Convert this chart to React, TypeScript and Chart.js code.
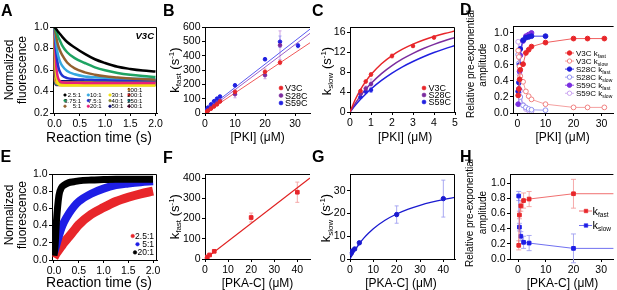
import React, { useEffect, useRef } from "react";
import { Chart, registerables } from "chart.js";

Chart.register(...registerables);

const FONT = "'Liberation Sans', Arial, Helvetica, sans-serif";
const W = 617;
const H = 290;
const YW = 28; // reserved width of the y scale box
const XH = 20; // reserved height of the x scale box

/* ================= DATA ================= */
/* Panel A: normalized fluorescence decays (V3C), value read at each time */
const A_TIME = [0, 0.01, 0.02, 0.03, 0.05, 0.075, 0.1, 0.15, 0.25, 0.4, 0.6, 0.8, 1.0, 1.25, 1.5, 1.75, 2.0];
const A_R2_5 = [1.0, 0.994, 0.988, 0.981, 0.97, 0.954, 0.94, 0.91, 0.86, 0.81, 0.75, 0.7, 0.665, 0.63, 0.61, 0.595, 0.585];
const A_R3_75 = [1.0, 0.99, 0.976, 0.965, 0.94, 0.905, 0.88, 0.83, 0.765, 0.71, 0.665, 0.625, 0.597, 0.573, 0.556, 0.544, 0.535];
const A_R5 = [1.0, 0.97, 0.945, 0.92, 0.87, 0.825, 0.79, 0.74, 0.67, 0.615, 0.578, 0.556, 0.541, 0.53, 0.52, 0.514, 0.51];
const A_R10 = [1.0, 0.95, 0.9, 0.86, 0.79, 0.73, 0.69, 0.64, 0.59, 0.56, 0.54, 0.532, 0.527, 0.523, 0.52, 0.518, 0.515];
const A_R7_5 = [1.0, 0.92, 0.85, 0.79, 0.7, 0.63, 0.59, 0.55, 0.525, 0.515, 0.51, 0.508, 0.506, 0.505, 0.505, 0.505, 0.505];
const A_R20 = [1.0, 0.85, 0.74, 0.66, 0.57, 0.52, 0.5, 0.486, 0.482, 0.481, 0.48, 0.48, 0.48, 0.48, 0.48, 0.48, 0.48];
const A_R30 = [1.0, 0.78, 0.65, 0.57, 0.5, 0.47, 0.46, 0.456, 0.455, 0.455, 0.455, 0.455, 0.455, 0.455, 0.455, 0.455, 0.455];
const A_R40 = [1.0, 0.74, 0.6, 0.54, 0.5, 0.49, 0.487, 0.486, 0.485, 0.485, 0.485, 0.485, 0.485, 0.485, 0.485, 0.485, 0.485];
const A_R50 = [1.0, 0.7, 0.58, 0.53, 0.505, 0.498, 0.496, 0.495, 0.495, 0.495, 0.495, 0.495, 0.495, 0.495, 0.495, 0.495, 0.495];
const A_R100 = [1.0, 0.6, 0.51, 0.485, 0.475, 0.472, 0.471, 0.47, 0.47, 0.47, 0.47, 0.47, 0.47, 0.47, 0.47, 0.47, 0.47];
const A_R200 = [1.0, 0.55, 0.5, 0.492, 0.49, 0.49, 0.49, 0.49, 0.49, 0.49, 0.49, 0.49, 0.49, 0.49, 0.49, 0.49, 0.49];
const A_R250 = [1.0, 0.52, 0.475, 0.468, 0.466, 0.465, 0.465, 0.465, 0.465, 0.465, 0.465, 0.465, 0.465, 0.465, 0.465, 0.465, 0.465];
const A_R400 = [1.0, 0.5, 0.468, 0.462, 0.46, 0.46, 0.46, 0.46, 0.46, 0.46, 0.46, 0.46, 0.46, 0.46, 0.46, 0.46, 0.46];
const A_LABELS = ["2.5:1", "3.75:1", "5:1", "10:1", "7.5:1", "20:1", "30:1", "40:1", "50:1", "100:1", "200:1", "250:1", "400:1"];
const A_SERIES = [A_R2_5, A_R3_75, A_R5, A_R10, A_R7_5, A_R20, A_R30, A_R40, A_R50, A_R100, A_R200, A_R250, A_R400];
const A_COLORS = ["#000000", "#1fa463", "#94602f", "#35a8e0", "#2233d0", "#e8207a", "#f2e313", "#8a8a35", "#0d0d6b", "#f5a33a", "#e62020", "#127f86", "#8b1a5c"];

/* Panel B: k_fast vs [PKI] */
const B_PKI = [0.5, 1, 2, 3, 4, 5, 10, 20, 25];
const B_PKI_S59C = [0.5, 1, 2, 3, 4, 5, 10, 20, 25, 31];
const B_V3C = [8, 15, 30, 45, 60, 80, 147, 287, 352];
const B_S28C = [9, 18, 35, 52, 68, 84, 131, 264, 473];
const B_S59C = [20, 38, 60, 82, 100, 115, 193, 375, 497, 470];
const B_V3C_ERR = [1, 2, 3, 4, 5, 6, 15, 20, 15];
const B_S28C_ERR = [2, 3, 4, 5, 6, 8, 25, 25, 100];
const B_S59C_ERR = [2, 3, 4, 5, 6, 8, 10, 10, 40, 15];
const B_FIT_X = [0, 35];
const B_FIT_V3C = [0, 490];
const B_FIT_S28C = [5, 556];
const B_FIT_S59C = [15, 585];

/* Panel C: k_slow vs [PKI] */
const C_PKI = [0.5, 0.75, 1, 2, 3, 4];
const C_PKI_LOW = [0.5, 0.75, 1];
const C_V3C = [4.2, 6.1, 7.5, 11.2, 13.2, 14.9];
const C_S28C = [3.6, 4.7, 5.6];
const C_S59C = [3.0, 4.1, 4.4];
const C_V3C_ERR = [0.3, 0.3, 0.4, 0.4, 0.3, 0.3];
const C_S28C_ERR = [0.4, 0.5, 1.0];
const C_S59C_ERR = [0.3, 0.4, 0.5];
const C_FIT_X = [0, 0.25, 0.5, 0.75, 1, 1.5, 2, 2.5, 3, 3.5, 4, 4.5, 5];
const C_FIT_V3C = [0, 2.49, 4.49, 6.13, 7.5, 9.66, 11.29, 12.56, 13.57, 14.4, 15.1, 15.69, 16.19];
const C_FIT_S28C = [0, 1.72, 3.22, 4.53, 5.7, 7.68, 9.28, 10.62, 11.74, 12.7, 13.53, 14.26, 14.9];
const C_FIT_S59C = [0, 1.33, 2.53, 3.61, 4.6, 6.31, 7.78, 9.04, 10.1, 11.05, 11.89, 12.63, 13.3];

/* Panel D: relative amplitudes vs [PKI] */
const D_PKI_V3C = [0.25, 0.5, 0.75, 1, 2, 3, 4, 5, 10, 20, 25, 31];
const D_V3C_FAST = [0.22, 0.3, 0.42, 0.54, 0.61, 0.75, 0.79, 0.83, 0.88, 0.93, 0.93, 0.93];
const D_V3C_SLOW = [0.78, 0.7, 0.58, 0.46, 0.39, 0.27, 0.21, 0.17, 0.11, 0.07, 0.07, 0.07];
const D_PKI_S28C = [0.25, 0.5, 0.75, 1, 2, 3, 4, 5, 10];
const D_S28C_FAST = [0.27, 0.38, 0.6, 0.8, 0.91, 0.94, 0.95, 0.96, 0.96];
const D_S28C_SLOW = [0.73, 0.62, 0.4, 0.2, 0.095, 0.07, 0.05, 0.04, 0.035];
const D_PKI_S59C = [0.25, 0.5, 0.75, 1, 2, 3, 4, 5];
const D_S59C_FAST = [0.11, 0.3, 0.52, 0.72, 0.9, 0.96, 0.98, 1.0];
const D_S59C_SLOW = [0.89, 0.7, 0.48, 0.28, 0.1, 0.05, 0.03, 0.02];

/* Panel E: normalized fluorescence rises (PKA-C : probe) */
const E_TIME = [0, 0.02, 0.05, 0.1, 0.15, 0.2, 0.3, 0.4, 0.5, 0.75, 1.0, 1.25, 1.5, 1.75, 2.0];
const E_R2_5 = [0.03, 0.05, 0.08, 0.12, 0.16, 0.2, 0.27, 0.34, 0.41, 0.53, 0.61, 0.68, 0.73, 0.77, 0.8];
const E_R5 = [0.08, 0.12, 0.18, 0.28, 0.37, 0.44, 0.54, 0.62, 0.68, 0.77, 0.83, 0.87, 0.89, 0.905, 0.915];
const E_R20 = [0.05, 0.15, 0.45, 0.75, 0.84, 0.87, 0.9, 0.91, 0.92, 0.93, 0.935, 0.94, 0.94, 0.94, 0.94];
const E_LABELS = ["2.5:1", "5:1", "20:1"];

/* Panels F, G, H: vs [PKA-C] */
const FG_PKAC = [0.5, 1, 2, 4, 20, 40];
const F_KFAST = [5, 10, 20, 38, 205, 330];
const F_ERR = [1, 2, 3, 4, 22, 50];
const F_FIT_X = [0, 45.5];
const F_FIT_Y = [0, 400];
const G_KSLOW = [2.5, 3.5, 4.4, 7.1, 19.5, 26.5];
const G_ERR = [0.3, 0.4, 0.5, 0.6, 3.8, 8.1];
const G_FIT_X = [0, 1, 2, 4, 6, 8, 10, 15, 20, 25, 30, 35, 40, 45];
const G_FIT_Y = [0, 1.925, 3.667, 6.696, 9.24, 11.41, 13.28, 16.99, 19.74, 21.88, 23.57, 24.95, 26.1, 27.07];
const H_PKAC = [0.25, 0.5, 1, 2, 4, 20, 40];
const H_FAST = [0.18, 0.58, 0.7, 0.77, 0.79, 0.86, 0.86];
const H_SLOW = [0.83, 0.42, 0.3, 0.22, 0.21, 0.14, 0.14];
const H_FAST_ERR = [0.06, 0.05, 0.07, 0.1, 0.1, 0.19, 0];
const H_SLOW_ERR = [0.06, 0.05, 0.06, 0.08, 0.1, 0.19, 0];

/* Tick values */
const TICKS_TIME = [0, 0.5, 1, 1.5, 2];
const TICKS_A_Y = [0.2, 0.4, 0.6, 0.8, 1.0];
const TICKS_FRAC = [0, 0.2, 0.4, 0.6, 0.8, 1.0];
const TICKS_B_X = [0, 10, 20, 30];
const TICKS_B_Y = [0, 100, 200, 300, 400, 500, 600];
const TICKS_C_X = [0, 1, 2, 3, 4, 5];
const TICKS_C_Y = [0, 4, 8, 12, 16];
const TICKS_FG_X = [0, 10, 20, 30, 40];
const TICKS_F_Y = [0, 100, 200, 300, 400];
const TICKS_G_Y = [0, 10, 20, 30];

/* ================= HELPERS ================= */
type Part = { t: string; s: number; dy?: number; b?: boolean; i?: boolean };
type TextSpec = { x: number; y: number; parts: Part[]; align?: "left" | "center" | "right"; rot?: boolean; color?: string };
type MarkerSpec = { style: "circle" | "rect"; r: number; fill: string | null; stroke: string; lw: number };
type LegendSpec = { x: number; y: number; marker?: MarkerSpec; line?: { x1: number; x2: number; color: string; lw: number }; text: TextSpec };
type ErrSpec = { ds: number; err: number[]; color: string; cap: number };
type PanelSpec = {
  area: [number, number, number, number];
  xr: [number, number];
  yr: [number, number];
  xt: number[];
  yt: number[];
  xf: (v: number) => string;
  yf: (v: number) => string;
  datasets: any[];
  texts: TextSpec[];
  legend: LegendSpec[];
  errs: ErrSpec[];
  boxRight: boolean;
};

const pts = (xs: number[], ys: number[]) => xs.map((x, i) => ({ x, y: ys[i] }));
const P = (t: string, s: number, o: Partial<Part> = {}): Part => ({ t, s, ...o });
const f1 = (v: number) => v.toFixed(1);
const f0 = (v: number) => String(v);

function curve(xs: number[], ys: number[], color: string, width: number, extra: any = {}) {
  return {
    data: pts(xs, ys),
    showLine: true,
    borderColor: color,
    backgroundColor: color,
    borderWidth: width,
    pointRadius: 0,
    pointHoverRadius: 0,
    cubicInterpolationMode: "monotone",
    fill: false,
    ...extra,
  };
}

function marks(xs: number[], ys: number[], fill: string, stroke: string, r: number, style = "circle", extra: any = {}) {
  return {
    data: pts(xs, ys),
    showLine: false,
    pointRadius: r,
    pointHoverRadius: r,
    pointStyle: style,
    pointBackgroundColor: fill,
    pointBorderColor: stroke,
    pointBorderWidth: 1,
    ...extra,
  };
}

function linked(xs: number[], ys: number[], lineColor: string, fill: string, stroke: string, r: number, style = "circle") {
  return {
    data: pts(xs, ys),
    showLine: true,
    borderColor: lineColor,
    borderWidth: 1,
    tension: 0,
    pointRadius: r,
    pointHoverRadius: r,
    pointStyle: style,
    pointBackgroundColor: fill,
    pointBorderColor: stroke,
    pointBorderWidth: 1,
  };
}

function drawRich(ctx: CanvasRenderingContext2D, it: TextSpec) {
  ctx.save();
  ctx.translate(it.x, it.y);
  if (it.rot) ctx.rotate(-Math.PI / 2);
  ctx.textBaseline = "alphabetic";
  ctx.textAlign = "left";
  ctx.fillStyle = it.color || "#000";
  const fonts = it.parts.map((p) => `${p.i ? "italic " : ""}${p.b ? "bold " : ""}${p.s}px ${FONT}`);
  let total = 0;
  const widths = it.parts.map((p, k) => {
    ctx.font = fonts[k];
    const w = ctx.measureText(p.t).width;
    total += w;
    return w;
  });
  let x0 = it.align === "center" ? -total / 2 : it.align === "right" ? -total : 0;
  it.parts.forEach((p, k) => {
    ctx.font = fonts[k];
    ctx.fillText(p.t, x0, p.dy || 0);
    x0 += widths[k];
  });
  ctx.restore();
}

function drawMarker(ctx: CanvasRenderingContext2D, m: MarkerSpec, x: number, y: number) {
  ctx.save();
  ctx.beginPath();
  if (m.style === "rect") ctx.rect(x - m.r, y - m.r, 2 * m.r, 2 * m.r);
  else ctx.arc(x, y, m.r, 0, Math.PI * 2);
  if (m.fill) {
    ctx.fillStyle = m.fill;
    ctx.fill();
  }
  ctx.lineWidth = m.lw;
  ctx.strokeStyle = m.stroke;
  ctx.stroke();
  ctx.restore();
}

function decor(p: PanelSpec) {
  return {
    id: "decor",
    beforeDatasetsDraw(chart: any) {
      const ctx: CanvasRenderingContext2D = chart.ctx;
      const ys = chart.scales.y;
      for (const e of p.errs) {
        const meta = chart.getDatasetMeta(e.ds);
        const vals = chart.data.datasets[e.ds].data;
        meta.data.forEach((pt: any, i: number) => {
          const d = e.err[i];
          if (!d) return;
          const v = vals[i].y;
          const y1 = ys.getPixelForValue(v - d);
          const y2 = ys.getPixelForValue(v + d);
          ctx.save();
          ctx.strokeStyle = e.color;
          ctx.lineWidth = 0.9;
          ctx.beginPath();
          ctx.moveTo(pt.x, y1);
          ctx.lineTo(pt.x, y2);
          ctx.moveTo(pt.x - e.cap, y1);
          ctx.lineTo(pt.x + e.cap, y1);
          ctx.moveTo(pt.x - e.cap, y2);
          ctx.lineTo(pt.x + e.cap, y2);
          ctx.stroke();
          ctx.restore();
        });
      }
    },
    afterDraw(chart: any) {
      const ctx: CanvasRenderingContext2D = chart.ctx;
      const a = chart.chartArea;
      ctx.save();
      ctx.strokeStyle = "#000";
      ctx.lineWidth = 1;
      ctx.beginPath();
      const t = Math.round(a.top) + 0.5;
      const r = Math.round(a.right) - 0.5;
      ctx.moveTo(Math.round(a.left), t);
      ctx.lineTo(p.boxRight ? r : a.right, t);
      if (p.boxRight) {
        ctx.moveTo(r, t);
        ctx.lineTo(r, Math.round(a.bottom));
      }
      ctx.stroke();
      ctx.restore();
      for (const lg of p.legend) {
        if (lg.line) {
          ctx.save();
          ctx.strokeStyle = lg.line.color;
          ctx.lineWidth = lg.line.lw;
          ctx.beginPath();
          ctx.moveTo(lg.line.x1, lg.y);
          ctx.lineTo(lg.line.x2, lg.y);
          ctx.stroke();
          ctx.restore();
        }
        if (lg.marker) drawMarker(ctx, lg.marker, lg.x, lg.y);
        drawRich(ctx, lg.text);
      }
      for (const tx of p.texts) drawRich(ctx, tx);
    },
  };
}

function axis(min: number, max: number, ticks: number[], fmt: (v: number) => string, isX: boolean) {
  return {
    type: "linear",
    position: isX ? "bottom" : "left",
    min,
    max,
    afterBuildTicks: (s: any) => {
      s.ticks = ticks.map((v) => ({ value: v }));
    },
    afterFit: (s: any) => {
      if (isX) s.height = XH;
      else s.width = YW;
      s.paddingLeft = 0;
      s.paddingRight = 0;
      s.paddingTop = 0;
      s.paddingBottom = 0;
    },
    ticks: {
      font: { family: FONT, size: 10.5 },
      color: "#000",
      padding: isX ? 2 : 1.5,
      maxRotation: 0,
      minRotation: 0,
      autoSkip: false,
      callback: (v: number) => fmt(v),
    },
    grid: { display: true, drawOnChartArea: false, drawTicks: true, tickLength: 3, color: "#000", lineWidth: 1 },
    border: { display: true, color: "#000", width: 1 },
  };
}

function makeConfig(p: PanelSpec): any {
  return {
    type: "scatter",
    data: { datasets: p.datasets },
    options: {
      animation: false,
      responsive: false,
      maintainAspectRatio: false,
      devicePixelRatio: 1,
      events: [],
      layout: {
        padding: { left: p.area[0] - YW, top: p.area[1], right: W - p.area[2], bottom: H - p.area[3] - XH },
      },
      plugins: { legend: { display: false }, tooltip: { enabled: false }, title: { display: false } },
      scales: {
        x: axis(p.xr[0], p.xr[1], p.xt, p.xf, true),
        y: axis(p.yr[0], p.yr[1], p.yt, p.yf, false),
      },
    },
    plugins: [decor(p)],
  };
}

/* common text builders */
const letter = (l: string, x: number, y: number): TextSpec => ({ x, y, parts: [P(l, 16, { b: true })] });
const kTitle = (sub: string, x: number, y: number): TextSpec => ({
  x,
  y,
  rot: true,
  align: "center",
  parts: [P("k", 13), P(sub, 8, { dy: 2.5 }), P(" (s", 13), P("-1", 8, { dy: -5 }), P(")", 13)],
});
const xTitle = (t: string, x: number, y: number, s = 12): TextSpec => ({ x, y, align: "center", parts: [P(t, s)] });
const rotLine = (t: string, x: number, y: number, s: number): TextSpec => ({ x, y, rot: true, align: "center", parts: [P(t, s)] });

/* colours */
const RED = "#e8262a";
const PURPLE = "#7b2c9e";
const BLUE = "#2020e0";
const VIOLET = "#7a2ee0";

/* ================= PANELS ================= */
const A_LEG_COLS = [
  { mx: 65, tx: 81, rows: [95, 100.6, 106.2], idx: [0, 1, 2] },
  { mx: 88.3, tx: 101.7, rows: [95, 100.6, 106.2], idx: [3, 4, 5] },
  { mx: 110, tx: 123.3, rows: [95, 100.6, 106.2], idx: [6, 7, 8] },
  { mx: 129, tx: 142.3, rows: [89.4, 95, 100.6, 106.2], idx: [9, 10, 11, 12] },
];
const A_LEGEND: LegendSpec[] = [];
A_LEG_COLS.forEach((c) =>
  c.idx.forEach((k, j) => {
    A_LEGEND.push({
      x: c.mx,
      y: c.rows[j],
      marker: { style: "circle", r: 1.3, fill: A_COLORS[k], stroke: A_COLORS[k], lw: 0.5 },
      text: { x: c.tx, y: c.rows[j] + 2.1, align: "right", parts: [P(A_LABELS[k], 6)] },
    });
  })
);

const panelA: PanelSpec = {
  area: [53, 27, 157, 113],
  xr: [-0.03, 2.03],
  yr: [0.2, 1.0],
  xt: TICKS_TIME,
  yt: TICKS_A_Y,
  xf: f1,
  yf: f1,
  datasets: A_SERIES.map((s, k) => curve(A_TIME, s, A_COLORS[k], 2.5)),
  texts: [
    letter("A", 1, 16),
    rotLine("Normalized", 13, 70, 12),
    rotLine("fluorescence", 25.5, 70, 12),
    xTitle("Reaction time (s)", 99, 141.5, 14),
    { x: 154, y: 38.5, align: "right", parts: [P("V3C", 9.5, { b: true, i: true })] },
  ],
  legend: A_LEGEND,
  errs: [],
  boxRight: true,
};

const smallLegend = (x: number, tx: number, rows: number[], names: string[], colors: string[]): LegendSpec[] =>
  names.map((n, k) => ({
    x,
    y: rows[k],
    marker: { style: "circle", r: 2, fill: colors[k], stroke: colors[k], lw: 0.5 },
    text: { x: tx, y: rows[k] + 3.2, parts: [P(n, 9)] },
  }));

const panelB: PanelSpec = {
  area: [205, 27, 310, 113],
  xr: [0, 35],
  yr: [0, 600],
  xt: TICKS_B_X,
  yt: TICKS_B_Y,
  xf: f0,
  yf: f0,
  datasets: [
    marks(B_PKI, B_V3C, RED, RED, 1.8),
    marks(B_PKI, B_S28C, PURPLE, PURPLE, 1.8),
    marks(B_PKI_S59C, B_S59C, BLUE, BLUE, 1.8),
    curve(B_FIT_X, B_FIT_V3C, "#f05a5a", 1),
    curve(B_FIT_X, B_FIT_S28C, "#a060c8", 1),
    curve(B_FIT_X, B_FIT_S59C, "#5a5af0", 1),
  ],
  texts: [letter("B", 163, 15.5), kTitle("fast", 178.5, 70), xTitle("[PKI] (\u03bcM)", 257.5, 141)],
  legend: smallLegend(281, 285, [88, 95.5, 103], ["V3C", "S28C", "S59C"], [RED, PURPLE, BLUE]),
  errs: [
    { ds: 0, err: B_V3C_ERR, color: "#f4a0a0", cap: 1.5 },
    { ds: 1, err: B_S28C_ERR, color: "#c99ae0", cap: 1.5 },
    { ds: 2, err: B_S59C_ERR, color: "#9a9af4", cap: 1.5 },
  ],
  boxRight: false,
};

const panelC: PanelSpec = {
  area: [350, 27, 455, 112],
  xr: [0, 5],
  yr: [0, 17],
  xt: TICKS_C_X,
  yt: TICKS_C_Y,
  xf: f0,
  yf: f0,
  datasets: [
    marks(C_PKI, C_V3C, RED, RED, 1.8),
    marks(C_PKI_LOW, C_S28C, PURPLE, PURPLE, 1.8),
    marks(C_PKI_LOW, C_S59C, BLUE, BLUE, 1.8),
    curve(C_FIT_X, C_FIT_V3C, RED, 1.5),
    curve(C_FIT_X, C_FIT_S28C, PURPLE, 1.5),
    curve(C_FIT_X, C_FIT_S59C, BLUE, 1.5),
  ],
  texts: [letter("C", 312, 15.5), kTitle("slow", 330.5, 71), xTitle("[PKI] (\u03bcM)", 405, 141)],
  legend: smallLegend(424, 428.5, [88, 95, 102], ["V3C", "S28C", "S59C"], [RED, PURPLE, BLUE]),
  errs: [
    { ds: 0, err: C_V3C_ERR, color: "#f4a0a0", cap: 1.5 },
    { ds: 1, err: C_S28C_ERR, color: "#c99ae0", cap: 1.5 },
    { ds: 2, err: C_S59C_ERR, color: "#9a9af4", cap: 1.5 },
  ],
  boxRight: true,
};

const D_STYLE = [
  { name: "V3C k", sub: "fast", line: "#f06060", fill: RED, stroke: RED },
  { name: "V3C k", sub: "slow", line: "#f4a0a0", fill: "#ffffff", stroke: "#f08080" },
  { name: "S28C k", sub: "fast", line: "#3a3ae0", fill: "#1c1cd8", stroke: "#1c1cd8" },
  { name: "S28C k", sub: "slow", line: "#a0a0f0", fill: "#ffffff", stroke: "#9090f0" },
  { name: "S59C k", sub: "fast", line: "#9050e0", fill: VIOLET, stroke: VIOLET },
  { name: "S59C k", sub: "slow", line: "#d0b0f0", fill: "#ffffff", stroke: "#c8a0f0" },
];
const D_XS = [D_PKI_V3C, D_PKI_V3C, D_PKI_S28C, D_PKI_S28C, D_PKI_S59C, D_PKI_S59C];
const D_YS = [D_V3C_FAST, D_V3C_SLOW, D_S28C_FAST, D_S28C_SLOW, D_S59C_FAST, D_S59C_SLOW];

const panelD: PanelSpec = {
  area: [513, 26, 617, 113],
  xr: [-1.6, 34.3],
  yr: [0, 1.087],
  xt: TICKS_B_X,
  yt: TICKS_FRAC,
  xf: f0,
  yf: f1,
  datasets: D_STYLE.map((s, k) => linked(D_XS[k], D_YS[k], s.line, s.fill, s.stroke, 2.4)),
  texts: [
    letter("D", 460, 14.5),
    rotLine("Relative pre-exponential", 473.5, 64, 10),
    rotLine("amplitude", 486, 65, 10),
    xTitle("[PKI] (\u03bcM)", 562.5, 141),
  ],
  legend: D_STYLE.map((s, k) => ({
    x: 569.5,
    y: 53 + 8.05 * k,
    line: { x1: 565, x2: 574, color: s.line, lw: 1 },
    marker: { style: "circle", r: 2.2, fill: s.fill, stroke: s.stroke, lw: 1 },
    text: { x: 576, y: 53 + 8.05 * k + 2.8, parts: [P(s.name, 8), P(s.sub, 5, { dy: 1.8 })] },
  })),
  errs: [],
  boxRight: false,
};

const E_COLORS = [RED, "#1e1ee6", "#000000"];
const panelE: PanelSpec = {
  area: [52, 174, 157, 260],
  xr: [-0.04, 2.08],
  yr: [0, 1],
  xt: TICKS_TIME,
  yt: TICKS_FRAC,
  xf: f1,
  yf: f1,
  datasets: [
    curve(E_TIME, E_R2_5, E_COLORS[0], 9, { order: 2 }),
    curve(E_TIME, E_R5, E_COLORS[1], 8, { order: 1 }),
    curve(E_TIME, E_R20, E_COLORS[2], 7, { order: 0 }),
  ],
  texts: [
    letter("E", 0.5, 161.5),
    rotLine("Normalized", 13, 215, 12),
    rotLine("fluorescence", 25.5, 215, 12),
    xTitle("Reaction time (s)", 99, 286.5, 14),
  ],
  legend: E_LABELS.map((n, k) => ({
    x: [132.7, 137.5, 135][k],
    y: [236, 244.2, 252.4][k],
    marker: { style: "circle", r: 1.8, fill: E_COLORS[k], stroke: E_COLORS[k], lw: 0.5 },
    text: { x: 154, y: [236, 244.2, 252.4][k] + 3, align: "right", parts: [P(n, 8.5)] },
  })),
  errs: [],
  boxRight: true,
};

const panelF: PanelSpec = {
  area: [205, 174, 310, 259],
  xr: [0, 45.5],
  yr: [0, 420],
  xt: TICKS_FG_X,
  yt: TICKS_F_Y,
  xf: f0,
  yf: f0,
  datasets: [marks(FG_PKAC, F_KFAST, RED, RED, 2.6, "rect"), curve(F_FIT_X, F_FIT_Y, "#e02020", 1.2)],
  texts: [letter("F", 163, 162.5), kTitle("fast", 178.5, 216.7), xTitle("[PKA-C] (\u03bcM)", 257.5, 286.5)],
  legend: [],
  errs: [{ ds: 0, err: F_ERR, color: "#f4a0a0", cap: 2 }],
  boxRight: false,
};

const panelG: PanelSpec = {
  area: [350, 174, 455, 259],
  xr: [0, 45],
  yr: [0, 37.3],
  xt: TICKS_FG_X,
  yt: TICKS_G_Y,
  xf: f0,
  yf: f0,
  datasets: [marks(FG_PKAC, G_KSLOW, "#1a1ad0", "#1a1ad0", 2.2), curve(G_FIT_X, G_FIT_Y, "#1a1ad0", 1.3)],
  texts: [letter("G", 312, 162), kTitle("slow", 330, 218), xTitle("[PKA-C] (\u03bcM)", 401, 286.5)],
  legend: [],
  errs: [{ ds: 0, err: G_ERR, color: "#a0a0f0", cap: 2 }],
  boxRight: true,
};

const panelH: PanelSpec = {
  area: [510, 174, 617, 259],
  xr: [-2.9, 34.4],
  yr: [0, 1.12],
  xt: TICKS_B_X,
  yt: TICKS_FRAC,
  xf: f0,
  yf: f1,
  datasets: [
    linked(H_PKAC, H_FAST, "#f07070", RED, RED, 2.6, "rect"),
    linked(H_PKAC, H_SLOW, "#7070f0", "#1e1ee6", "#1e1ee6", 2.6, "rect"),
  ],
  texts: [
    letter("H", 460, 162),
    rotLine("Relative pre-exponential", 473, 213, 10),
    rotLine("amplitude", 486, 212.5, 10),
    xTitle("[PKA-C] (\u03bcM)", 562.5, 286.5),
  ],
  legend: [
    {
      x: 586,
      y: 211,
      line: { x1: 579, x2: 592, color: "#f07070", lw: 1 },
      marker: { style: "rect", r: 1.8, fill: RED, stroke: RED, lw: 0.5 },
      text: { x: 592.5, y: 214.5, parts: [P("k", 11), P("fast", 6.5, { dy: 2 })] },
    },
    {
      x: 586,
      y: 225.5,
      line: { x1: 579, x2: 592, color: "#7070f0", lw: 1 },
      marker: { style: "rect", r: 1.8, fill: "#1e1ee6", stroke: "#1e1ee6", lw: 0.5 },
      text: { x: 592.5, y: 229, parts: [P("k", 11), P("slow", 6.5, { dy: 2 })] },
    },
  ],
  errs: [
    { ds: 0, err: H_FAST_ERR, color: "#f4a0a0", cap: 2.5 },
    { ds: 1, err: H_SLOW_ERR, color: "#a0a0f0", cap: 2.5 },
  ],
  boxRight: false,
};

const PANELS = [panelA, panelB, panelC, panelD, panelE, panelF, panelG, panelH];

/* ================= COMPONENTS ================= */
function ChartLayer({ spec }: { spec: PanelSpec }) {
  const ref = useRef<HTMLCanvasElement>(null);
  useEffect(() => {
    if (!ref.current) return;
    const c = new Chart(ref.current, makeConfig(spec));
    return () => c.destroy();
  }, [spec]);
  return (
    <canvas
      ref={ref}
      width={W}
      height={H}
      style={{ position: "absolute", left: 0, top: 0, width: W, height: H }}
    />
  );
}

export default function App() {
  return (
    <div
      style={{
        position: "absolute",
        left: 0,
        top: 0,
        width: W,
        height: H,
        overflow: "hidden",
        background: "#ffffff",
      }}
    >
      {PANELS.map((p, i) => (
        <ChartLayer key={i} spec={p} />
      ))}
    </div>
  );
}
